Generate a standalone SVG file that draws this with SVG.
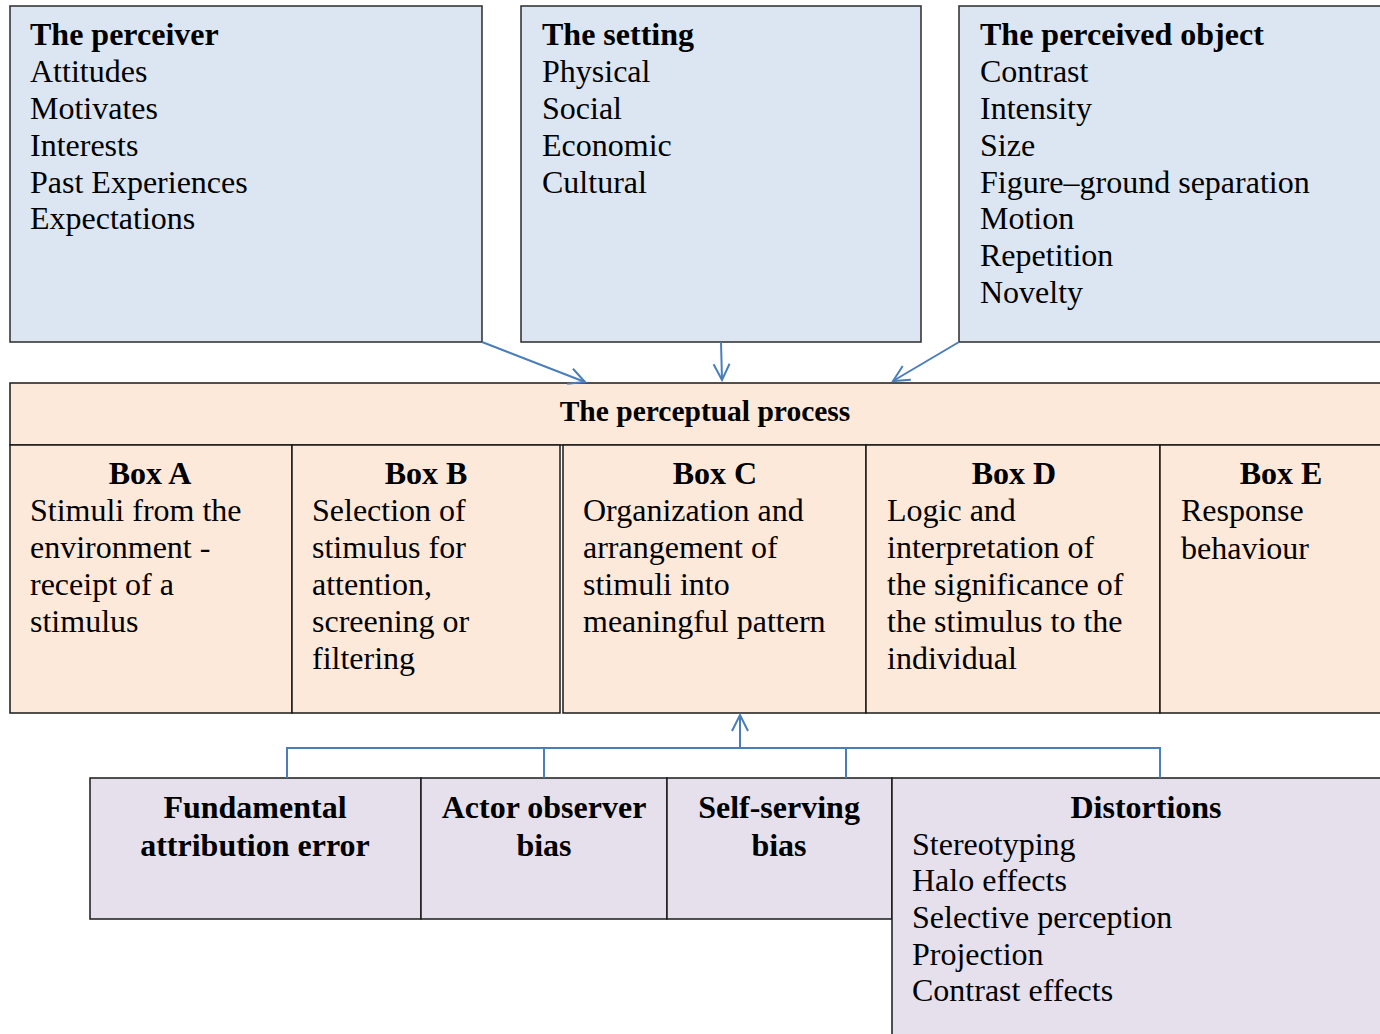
<svg xmlns="http://www.w3.org/2000/svg" width="1380" height="1034" viewBox="0 0 1380 1034">
  <defs>
    <style>
      .blue { fill: #dce6f2; stroke: #2b2b2b; stroke-width: 1.5; }
      .peach { fill: #fde9d9; stroke: #1a1a1a; stroke-width: 1.5; }
      .lav { fill: #e5e0ec; stroke: #1a1a1a; stroke-width: 1.5; }
      text { font-family: "Liberation Serif", "Times New Roman", serif; font-size: 32px; fill: #000; }
      .b { font-weight: bold; }
      .c { text-anchor: middle; }
      .conn { stroke: #4a7ebb; stroke-width: 2; fill: none; }
    </style>
    <marker id="open" viewBox="0 0 20 20" refX="18" refY="10" markerWidth="20" markerHeight="20" markerUnits="userSpaceOnUse" orient="auto">
      <path d="M2,2 L18,10 L2,18" fill="none" stroke="#4a7ebb" stroke-width="2"/>
    </marker>
  </defs>

  <!-- influences on perception -->
  <g id="perceiver">
    <rect class="blue" x="10" y="6" width="472" height="336"/>
    <text x="30" y="45" class="b">The perceiver</text>
    <text x="30" y="82">Attitudes</text>
    <text x="30" y="119">Motivates</text>
    <text x="30" y="156">Interests</text>
    <text x="30" y="193">Past Experiences</text>
    <text x="30" y="229">Expectations</text>
  </g>

  <g id="setting">
    <rect class="blue" x="521" y="6" width="400" height="336"/>
    <text x="542" y="45" class="b">The setting</text>
    <text x="542" y="82">Physical</text>
    <text x="542" y="119">Social</text>
    <text x="542" y="156">Economic</text>
    <text x="542" y="193">Cultural</text>
  </g>

  <g id="perceived-object">
    <rect class="blue" x="959" y="6" width="430" height="336"/>
    <text x="980" y="45" class="b">The perceived object</text>
    <text x="980" y="82">Contrast</text>
    <text x="980" y="119">Intensity</text>
    <text x="980" y="156">Size</text>
    <text x="980" y="193">Figure–ground separation</text>
    <text x="980" y="229">Motion</text>
    <text x="980" y="266">Repetition</text>
    <text x="980" y="303">Novelty</text>
  </g>

  <!-- the perceptual process table -->
  <g id="perceptual-process">
    <rect class="peach" x="10" y="383" width="1380" height="62"/>
    <text x="705" y="421" class="b c" style="font-size:29.5px">The perceptual process</text>
  </g>

  <g id="box-a">
    <rect class="peach" x="10" y="445" width="282" height="268"/>
    <text x="150" y="484" class="b c">Box A</text>
    <text x="30" y="521">Stimuli from the</text>
    <text x="30" y="558">environment -</text>
    <text x="30" y="595">receipt of a</text>
    <text x="30" y="632">stimulus</text>
  </g>

  <g id="box-b">
    <rect class="peach" x="292" y="445" width="268" height="268"/>
    <text x="426" y="484" class="b c">Box B</text>
    <text x="312" y="521">Selection of</text>
    <text x="312" y="558">stimulus for</text>
    <text x="312" y="595">attention,</text>
    <text x="312" y="632">screening or</text>
    <text x="312" y="669">filtering</text>
  </g>

  <g id="box-c">
    <rect class="peach" x="563" y="445" width="303" height="268"/>
    <text x="715" y="484" class="b c">Box C</text>
    <text x="583" y="521">Organization and</text>
    <text x="583" y="558">arrangement of</text>
    <text x="583" y="595">stimuli into</text>
    <text x="583" y="632">meaningful pattern</text>
  </g>

  <g id="box-d">
    <rect class="peach" x="866" y="445" width="294" height="268"/>
    <text x="1014" y="484" class="b c">Box D</text>
    <text x="887" y="521">Logic and</text>
    <text x="887" y="558">interpretation of</text>
    <text x="887" y="595">the significance of</text>
    <text x="887" y="632">the stimulus to the</text>
    <text x="887" y="669">individual</text>
  </g>

  <g id="box-e">
    <rect class="peach" x="1160" y="445" width="230" height="268"/>
    <text x="1281" y="484" class="b c">Box E</text>
    <text x="1181" y="521">Response</text>
    <text x="1181" y="559">behaviour</text>
  </g>

  <!-- attribution errors and distortions -->
  <g id="fundamental-attribution-error">
    <rect class="lav" x="90" y="778" width="331" height="141"/>
    <text x="255" y="818" class="b c">Fundamental</text>
    <text x="255" y="856" class="b c">attribution error</text>
  </g>

  <g id="actor-observer-bias">
    <rect class="lav" x="421" y="778" width="246" height="141"/>
    <text x="544" y="818" class="b c">Actor observer</text>
    <text x="544" y="856" class="b c">bias</text>
  </g>

  <g id="self-serving-bias">
    <rect class="lav" x="667" y="778" width="225" height="141"/>
    <text x="779" y="818" class="b c">Self-serving</text>
    <text x="779" y="856" class="b c">bias</text>
  </g>

  <g id="distortions">
    <rect class="lav" x="892" y="778" width="500" height="270"/>
    <text x="1146" y="818" class="b c">Distortions</text>
    <text x="912" y="855">Stereotyping</text>
    <text x="912" y="891">Halo effects</text>
    <text x="912" y="928">Selective perception</text>
    <text x="912" y="965">Projection</text>
    <text x="912" y="1001">Contrast effects</text>
  </g>

  <!-- connectors -->
  <g id="connectors">
    <line class="conn" x1="482" y1="342" x2="585" y2="382" marker-end="url(#open)"/>
    <line class="conn" x1="721" y1="342" x2="722" y2="380" marker-end="url(#open)"/>
    <line class="conn" x1="959" y1="342" x2="893" y2="381" marker-end="url(#open)"/>
    <line class="conn" x1="740" y1="748" x2="740" y2="715" marker-end="url(#open)"/>
    <path class="conn" d="M287,778 L287,748 L1160,748 L1160,778 M544,748 L544,778 M846,748 L846,778"/>
  </g>
</svg>
